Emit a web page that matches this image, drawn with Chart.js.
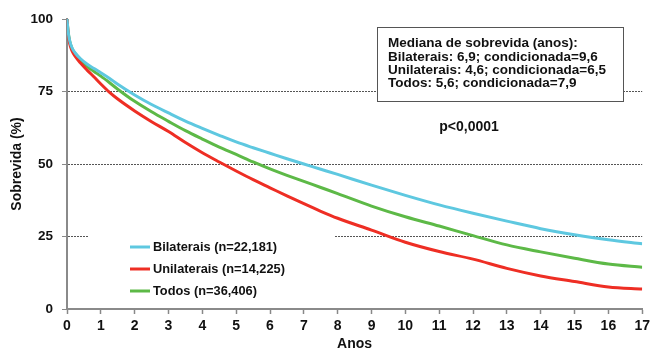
<!DOCTYPE html>
<html>
<head>
<meta charset="utf-8">
<script src="https://cdn.jsdelivr.net/npm/chart.js@4.4.1/dist/chart.umd.min.js"></script>
<style>
html,body{margin:0;padding:0;background:#fff;}
#wrap{width:654px;height:350px;position:relative;}
</style>
</head>
<body>
<div id="wrap"><canvas id="c" width="654" height="350"></canvas></div>
<script>
const years = [0, 0.03, 0.08, 0.15, 0.25, 0.4, 0.6, 0.8, 1, 1.25, 1.5, 2, 2.5, 3, 3.5, 4, 4.5, 5, 5.5, 6, 6.5, 7, 7.5, 8, 9, 10, 11, 12, 13, 14, 15, 16, 17];
const bilaterais = [100, 96, 92.5, 90, 88.2, 86.3, 84.4, 82.9, 81.5, 79.6, 77.5, 73.8, 70.5, 67.6, 64.8, 62.3, 59.9, 57.6, 55.6, 53.7, 51.8, 50, 48.2, 46.4, 42.7, 39.2, 35.9, 33, 30.3, 27.7, 25.6, 23.9, 22.5];
const todos      = [100, 96, 92.3, 89.8, 87.9, 85.8, 83.6, 81.9, 80.3, 78.1, 75.8, 71.6, 68, 64.7, 61.5, 58.6, 55.8, 53.3, 50.7, 48.3, 46.1, 44, 41.9, 39.8, 35.5, 31.8, 28.6, 25.3, 22.1, 19.7, 17.5, 15.5, 14.4];
const unilaterais= [100, 95.5, 91.5, 89, 87, 84.8, 82.3, 80, 77.6, 74.8, 72.4, 68.3, 64.6, 61.2, 57.4, 53.9, 50.7, 47.6, 44.6, 41.8, 39, 36.3, 33.7, 31.3, 27.2, 23, 19.8, 17.2, 14, 11.4, 9.5, 7.6, 6.9];
const seriesLabels = ['Bilaterais (n=22,181)', 'Unilaterais (n=14,225)', 'Todos (n=36,406)'];
const seriesColors = ['#5ec8e0', '#ee2e24', '#5db947'];
const xTicks = [0,1,2,3,4,5,6,7,8,9,10,11,12,13,14,15,16,17];
const yTicks = [0,25,50,75,100];
const boxLines = ['Mediana de sobrevida (anos):', 'Bilaterais: 6,9; condicionada=9,6', 'Unilaterais: 4,6; condicionada=6,5', 'Todos: 5,6; condicionada=7,9'];
const pText = 'p<0,0001';

const FONT = '"Liberation Sans", Arial, Helvetica, sans-serif';
const toPts = arr => years.map((x, i) => ({x: x, y: arr[i]}));
const seriesData = [bilaterais, unilaterais, todos];

const overlay = {
  id: 'overlay',
  afterDatasetsDraw(chart) {
    const ctx = chart.ctx;
    ctx.save();
    // text box
    const bx = 377, by = 27, bw = 246, bh = 74;
    ctx.fillStyle = '#fff';
    ctx.fillRect(bx, by, bw, bh);
    ctx.strokeStyle = '#555';
    ctx.lineWidth = 1;
    ctx.strokeRect(bx + 0.5, by + 0.5, bw, bh);
    ctx.fillStyle = '#111';
    ctx.font = 'bold 13.5px ' + FONT;
    ctx.textBaseline = 'middle';
    ctx.textAlign = 'left';
    boxLines.forEach((t, i) => ctx.fillText(t, 388, 43.5 + i * 13.3));
    ctx.font = 'bold 14px ' + FONT;
    ctx.textAlign = 'center';
    ctx.fillText(pText, 469, 127);
    // legend
    ctx.fillStyle = '#fff';
    ctx.fillRect(88, 228, 247, 72);
    ctx.font = 'bold 12.8px ' + FONT;
    ctx.textAlign = 'left';
    seriesLabels.forEach((lab, i) => {
      const yy = 247 + i * 22;
      ctx.strokeStyle = seriesColors[i];
      ctx.lineWidth = 3;
      ctx.beginPath();
      ctx.moveTo(130, yy);
      ctx.lineTo(150, yy);
      ctx.stroke();
      ctx.fillStyle = '#111';
      ctx.fillText(lab, 153, yy);
    });
    ctx.restore();
  }
};

new Chart(document.getElementById('c'), {
  type: 'line',
  data: {
    datasets: seriesData.map((arr, i) => ({
      label: seriesLabels[i],
      data: toPts(arr),
      borderColor: seriesColors[i],
      backgroundColor: seriesColors[i],
      borderWidth: 3,
      pointRadius: 0,
      fill: false,
      cubicInterpolationMode: 'monotone'
    }))
  },
  options: {
    responsive: false,
    animation: false,
    layout: {padding: {top: 19, right: 8, left: 0, bottom: 0}},
    plugins: {legend: {display: false}, tooltip: {enabled: false}},
    scales: {
      x: {
        type: 'linear', min: 0, max: 17,
        afterBuildTicks: s => { s.ticks = xTicks.map(v => ({value: v})); },
        afterFit: s => { s.height = 41; },
        ticks: {font: {family: FONT, size: 14, weight: 'bold'}, color: '#111', padding: 4, maxRotation: 0, autoSkip: false},
        grid: {drawOnChartArea: false, drawTicks: true, tickLength: 5, tickColor: '#888', tickWidth: 1.5},
        border: {color: '#8a8a8a', width: 2},
        title: {display: true, text: 'Anos', font: {family: FONT, size: 14, weight: 'bold', lineHeight: 0.8}, color: '#111', padding: {top: 0, bottom: 0}}
      },
      y: {
        type: 'linear', min: 0, max: 100,
        afterBuildTicks: s => { s.ticks = yTicks.map(v => ({value: v})); },
        afterFit: s => { s.width = 67; },
        ticks: {font: {family: FONT, size: 13.5, weight: 'bold'}, color: '#111', padding: 9},
        grid: {
          drawTicks: true, tickLength: 5,
          color: c => (c.tick && c.tick.value > 0 && c.tick.value < 100) ? '#555' : 'rgba(0,0,0,0)',
          tickColor: '#888', lineWidth: 1, tickBorderDash: []
        },
        border: {color: '#8a8a8a', width: 2, dash: [2, 1]},
        title: {display: true, text: 'Sobrevida (%)', font: {family: FONT, size: 14, weight: 'bold', lineHeight: 1}, color: '#111', padding: {top: 10, bottom: 0}}
      }
    }
  },
  plugins: [overlay]
});
</script>
</body>
</html>
